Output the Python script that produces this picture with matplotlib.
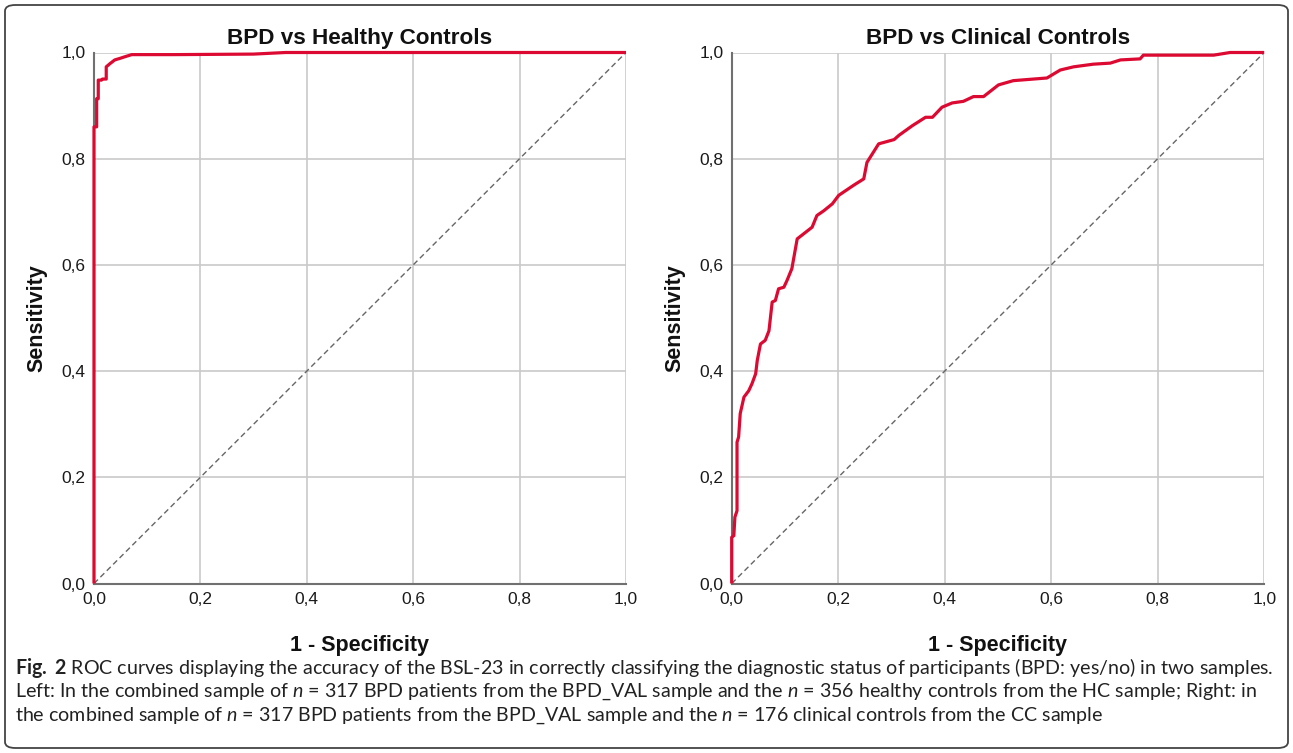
import matplotlib
matplotlib.use("Agg")
import matplotlib.pyplot as plt
from matplotlib.patches import FancyBboxPatch
from matplotlib.ticker import FuncFormatter

# ---------------- data ----------------
titles = ["BPD vs Healthy Controls", "BPD vs Clinical Controls"]
ticks = [0.0, 0.2, 0.4, 0.6, 0.8, 1.0]

fpr_hc = [0, 0, 0.005, 0.005, 0.008, 0.008, 0.014, 0.016, 0.023, 0.023, 0.030,
          0.039, 0.049, 0.058, 0.071, 0.15, 0.30, 0.36, 1.0]
tpr_hc = [0, 0.860, 0.860, 0.913, 0.913, 0.948, 0.948, 0.950, 0.950, 0.973, 0.979,
          0.986, 0.989, 0.992, 0.996, 0.996, 0.997, 1.0, 1.0]

fpr_cc = [0, 0, 0.004, 0.006, 0.010, 0.010, 0.013, 0.016, 0.023, 0.032, 0.038,
          0.045, 0.048, 0.054, 0.063, 0.070, 0.076, 0.082, 0.088, 0.098, 0.104,
          0.113, 0.123, 0.151, 0.160, 0.173, 0.189, 0.201, 0.229, 0.248, 0.254,
          0.276, 0.305, 0.314, 0.339, 0.364, 0.377, 0.395, 0.414, 0.435, 0.454,
          0.473, 0.501, 0.529, 0.592, 0.617, 0.642, 0.679, 0.711, 0.730, 0.767,
          0.773, 0.905, 0.936, 1.0]
tpr_cc = [0, 0.087, 0.090, 0.125, 0.137, 0.266, 0.276, 0.320, 0.351, 0.363, 0.376,
          0.395, 0.420, 0.451, 0.458, 0.476, 0.530, 0.533, 0.555, 0.558, 0.571,
          0.593, 0.649, 0.671, 0.693, 0.702, 0.715, 0.731, 0.750, 0.762, 0.793,
          0.828, 0.836, 0.844, 0.862, 0.878, 0.878, 0.897, 0.905, 0.908, 0.917,
          0.917, 0.939, 0.947, 0.952, 0.967, 0.973, 0.978, 0.980, 0.986, 0.988,
          0.995, 0.995, 1.0, 1.0]

curves = [(fpr_hc, tpr_hc), (fpr_cc, tpr_cc)]

caption_lines = [
    r"$\mathbf{Fig.\ 2}$ ROC curves displaying the accuracy of the BSL-23 in correctly classifying the diagnostic status of participants (BPD: yes/no) in two samples.",
    r"Left: In the combined sample of $n$ = 317 BPD patients from the BPD_VAL sample and the $n$ = 356 healthy controls from the HC sample; Right: in",
    r"the combined sample of $n$ = 317 BPD patients from the BPD_VAL sample and the $n$ = 176 clinical controls from the CC sample",
]

# ---------------- style ----------------
plt.rcParams["mathtext.fontset"] = "custom"
plt.rcParams["mathtext.rm"] = "Lato"
plt.rcParams["mathtext.it"] = "Lato:italic"
plt.rcParams["mathtext.bf"] = "Lato:bold"

W, H = 1293, 753
fig = plt.figure(figsize=(W / 100, H / 100), dpi=100)

RED = "#dc0a32"
GRID = "#c9c9c9"
SPINE = "#707070"

axes_px = [(94, 52.5, 532, 531), (731.7, 52.5, 532.5, 531)]

fmt = FuncFormatter(lambda v, p: f"{v:.1f}".replace(".", ","))

for (x0, y0, w, h), title, (fx, ty) in zip(axes_px, titles, curves):
    ax = fig.add_axes([x0 / W, (H - y0 - h) / H, w / W, h / H])
    ax.set_xlim(0, 1)
    ax.set_ylim(0, 1)
    ax.set_xticks(ticks)
    ax.set_yticks(ticks)
    ax.xaxis.set_major_formatter(fmt)
    ax.yaxis.set_major_formatter(fmt)
    ax.grid(True, color=GRID, lw=1.2)
    ax.set_axisbelow(True)
    for s in ["top", "right"]:
        ax.spines[s].set_visible(False)
    for s in ["left", "bottom"]:
        ax.spines[s].set_color(SPINE)
        ax.spines[s].set_linewidth(1.5)
    ax.tick_params(length=0, labelsize=12.5, colors="#1a1a1a", pad=6,
                   labelfontfamily="Liberation Sans")
    ax.plot([0, 1], [0, 1], color="#666666", lw=1.0, ls=(0, (4, 2.5)), zorder=2)
    ax.plot(fx, ty, color=RED, lw=2.3, zorder=3, clip_on=False,
            solid_joinstyle="round", solid_capstyle="butt")
    ax.set_title(title, fontsize=16.2, fontweight="bold", family="Liberation Sans",
                 pad=6, color="#111111")
    ax.set_xlabel("1 - Specificity", fontsize=15.5, fontweight="bold",
                  family="Liberation Sans", labelpad=20, color="#111111")
    ax.set_ylabel("Sensitivity", fontsize=15.5, fontweight="bold",
                  family="Liberation Sans", labelpad=10, color="#111111")

# caption
y_lines = [668, 692, 716]
for txt, yp in zip(caption_lines, y_lines):
    fig.text(15 / W, 1 - yp / H, txt, fontsize=14.1, family="Lato",
             color="#222222", va="center", ha="left")

# frame
frame = FancyBboxPatch((5 / W, 5 / H), (W - 10) / W, (H - 10) / H,
                       boxstyle="round,pad=0,rounding_size=0.008",
                       transform=fig.transFigure, fill=False,
                       edgecolor="#444444", lw=1.3)
fig.patches.append(frame)

fig.savefig("out.png", dpi=100)
